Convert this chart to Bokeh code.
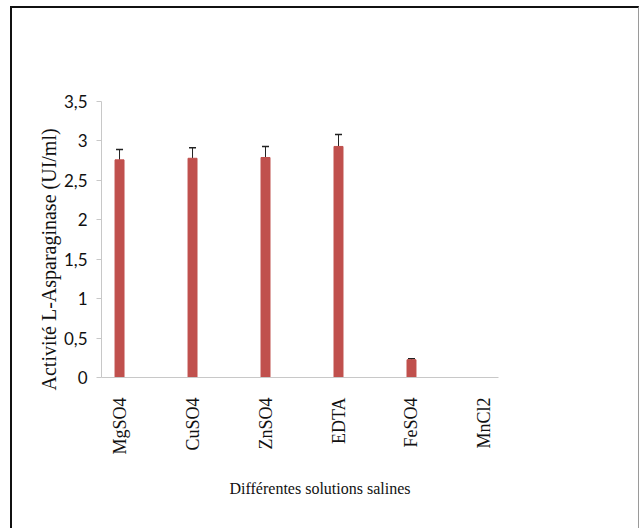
import math
from bokeh.plotting import figure
from bokeh.models import FixedTicker, Whisker, TeeHead, ColumnDataSource, Range1d, Title
from bokeh.embed import file_html
from bokeh.resources import INLINE

categories = ["MgSO4", "CuSO4", "ZnSO4", "EDTA", "FeSO4", "MnCl2"]
activity = [2.76, 2.78, 2.79, 2.93, 0.225, 0.0]
errors = [0.13, 0.135, 0.14, 0.15, 0.012, 0.0]
y_ticks = [0, 0.5, 1, 1.5, 2, 2.5, 3, 3.5]
y_tick_labels = ["0", "0,5", "1", "1,5", "2", "2,5", "3", "3,5"]

xs = list(range(len(categories)))
src = ColumnDataSource(dict(x=xs, top=activity))
keep = [i for i, e in enumerate(errors) if e > 0]
err_src = ColumnDataSource(dict(
    x=[xs[i] for i in keep],
    lower=[activity[i] for i in keep],
    upper=[activity[i] + errors[i] for i in keep],
))

p = figure(
    frame_width=397, frame_height=276,
    min_border_left=89, min_border_right=140,
    min_border_top=93, min_border_bottom=151,
    x_range=Range1d(-0.247, 5.192), y_range=Range1d(0, 3.5),
    output_backend="svg", toolbar_location=None,
    styles={"margin-left": "10px", "margin-top": "6px",
            "border-top": "2px solid #111111", "border-left": "2px solid #111111",
            "border-right": "1px solid #9a9a9a"},
)
p.outline_line_color = None
p.xgrid.visible = False
p.ygrid.visible = False

p.vbar(x="x", top="top", width=0.123, bottom=0, source=src,
       fill_color="#c0504d", line_color="#c0504d")
w = Whisker(base="x", lower="lower", upper="upper", source=err_src,
            dimension="height", line_color="#222222", line_width=1,
            lower_head=None,
            upper_head=TeeHead(size=7, line_color="#222222", line_width=1.5))
p.add_layout(w)

# x axis
p.xaxis.ticker = FixedTicker(ticks=xs)
p.xaxis.major_label_overrides = {i: c for i, c in zip(xs, categories)}
p.xaxis.major_label_orientation = math.pi / 2
p.xaxis.major_tick_out = 0
p.xaxis.major_tick_in = 0
p.xaxis.minor_tick_line_color = None
p.xaxis.axis_line_color = "#c8c8c8"
p.xaxis.major_label_standoff = 20
p.xaxis.major_label_text_font = "Liberation Serif"
p.xaxis.major_label_text_font_size = "18px"
p.xaxis.major_label_text_color = "#111111"

# y axis
p.yaxis.ticker = FixedTicker(ticks=y_ticks)
p.yaxis.major_label_overrides = {t: l for t, l in zip(y_ticks, y_tick_labels)}
p.yaxis.minor_tick_line_color = None
p.yaxis.axis_line_color = "#c8c8c8"
p.yaxis.major_tick_line_color = "#c8c8c8"
p.yaxis.major_tick_out = 5
p.yaxis.major_tick_in = 0
p.yaxis.major_label_standoff = 9
p.yaxis.major_label_text_font = "Lato"
p.yaxis.major_label_text_font_size = "17px"
p.yaxis.major_label_text_color = "#111111"

yt = Title(text="Activité L-Asparaginase (UI/ml)", align="left", offset=-13,
           text_font="Liberation Serif", text_font_style="normal",
           text_font_size="20px", text_color="#111111", standoff=2)
p.add_layout(yt, "left")

t = Title(text="Différentes solutions salines", align="left", offset=128,
          text_font="Liberation Serif", text_font_style="normal",
          text_font_size="16px", text_color="#111111", standoff=40)
p.add_layout(t, "below")

open("out.html", "w").write(file_html(p, INLINE))
